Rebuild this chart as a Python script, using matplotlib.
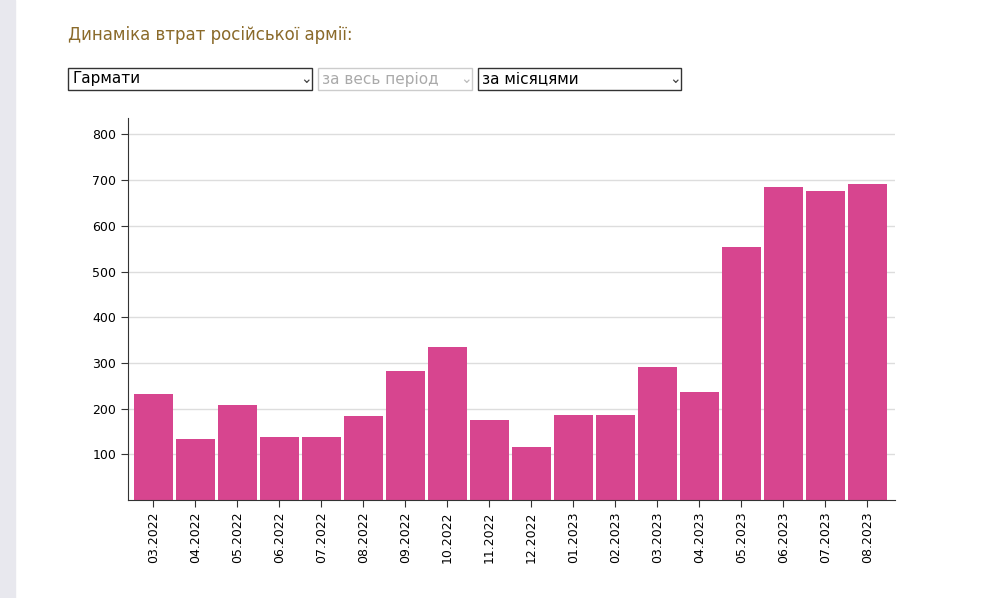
import matplotlib.pyplot as plt
from matplotlib.patches import Rectangle

months = ["03.2022", "04.2022", "05.2022", "06.2022", "07.2022", "08.2022", "09.2022",
          "10.2022", "11.2022", "12.2022", "01.2023", "02.2023", "03.2023", "04.2023",
          "05.2023", "06.2023", "07.2023", "08.2023"]
losses = [232, 134, 208, 137, 137, 184, 282, 334, 174, 116, 187, 187, 290, 236,
          553, 686, 676, 692]
yticks = [100, 200, 300, 400, 500, 600, 700, 800]

fig = plt.figure(figsize=(10, 5.98), dpi=100)
fig.patches.append(Rectangle((0, 0), 0.015, 1, transform=fig.transFigure,
                             color="#e8e8ee", zorder=0))

fig.text(0.068, 0.942, "Динаміка втрат російської армії:", color="#8a6a2a",
         fontsize=12, va="center")

# dropdowns
def dropdown(x0, x1, text, active=True):
    w, h = (x1 - x0) / 1000, 22 / 598
    y = 1 - 90 / 598
    col = "#333333" if active else "#cccccc"
    fig.patches.append(Rectangle((x0 / 1000, y), w, h, transform=fig.transFigure,
                                 fill=False, edgecolor=col, lw=1))
    fig.text(x0 / 1000 + 0.004, y + h / 2, text, fontsize=11, va="center",
             color="black" if active else "#aaaaaa")
    fig.text(x1 / 1000 - 0.012, y + h / 2, "⌄", fontsize=10, va="center",
             color="#444444" if active else "#bbbbbb")

dropdown(68, 312, "Гармати")
dropdown(318, 472, "за весь період", active=False)
dropdown(478, 681, "за місяцями")

ax = fig.add_axes([0.128, 0.1639, 0.767, 0.6388])
x = range(len(months))
ax.bar(x, losses, width=0.93, color="#d7458f", zorder=2)
ax.set_xlim(-0.607, len(months) - 1 + 0.655)
ax.set_ylim(0, 836)
ax.set_yticks(yticks)
ax.set_yticklabels([str(v) for v in yticks], fontsize=9)
ax.set_xticks(list(x))
ax.set_xticklabels(months, rotation=90, fontsize=9)
ax.grid(axis="y", color="#dddddd", lw=1, zorder=0)
for s in ["top", "right"]:
    ax.spines[s].set_visible(False)
ax.spines["left"].set_color("#333333")
ax.spines["bottom"].set_color("#333333")
ax.tick_params(length=5, color="#333333")

fig.savefig("out.png", dpi=100)
